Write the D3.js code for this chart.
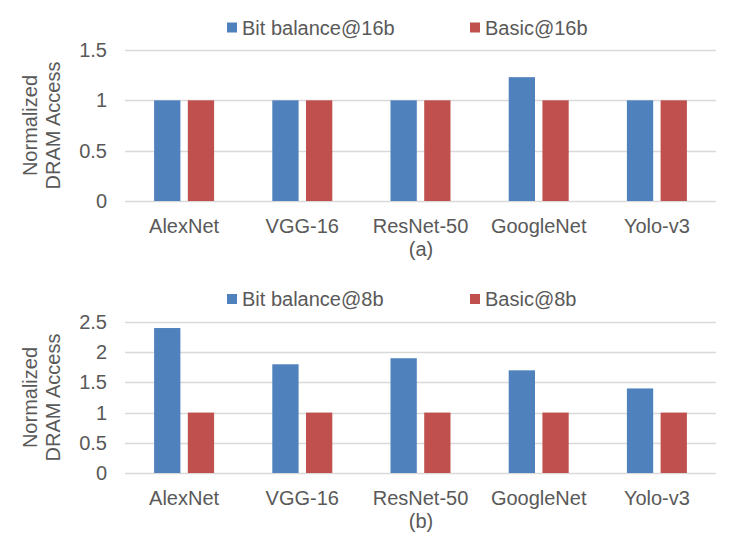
<!DOCTYPE html>
<html>
<head>
<meta charset="utf-8">
<script src="https://cdn.jsdelivr.net/npm/d3@7"></script>
<style>
  body { margin: 0; background: #fff; }
  text { font-family: "Liberation Sans", Arial, sans-serif; fill: #595959; }
</style>
</head>
<body>
<div id="container"></div>
<script>
var w = 739,
    h = 544;

// data
var networks = ['AlexNet', 'VGG-16', 'ResNet-50', 'GoogleNet', 'Yolo-v3'];

var series16 = ['Bit balance@16b', 'Basic@16b'];
var bitBalance16 = [1, 1, 1, 1.23, 1];
var basic16 = [1, 1, 1, 1, 1];
var ticks16 = [0, 0.5, 1, 1.5];

var series8 = ['Bit balance@8b', 'Basic@8b'];
var bitBalance8 = [2.4, 1.8, 1.9, 1.7, 1.4];
var basic8 = [1, 1, 1, 1, 1];
var ticks8 = [0, 0.5, 1, 1.5, 2, 2.5];

var colors = ['#4f81bd', '#c0504d'];

var svg = d3.select('#container')
    .append('svg')
    .attr('width', w)
    .attr('height', h);

// one panel of the figure
function drawPanel(opts) {
    var g = svg.append('g');

    var x0 = d3.scaleBand()
        .domain(networks)
        .range([125, 716]);

    var y = d3.scaleLinear()
        .domain([0, opts.max])
        .range([opts.bottom, opts.top]);

    // gridlines
    g.selectAll('.grid')
        .data(opts.ticks)
        .enter()
        .append('line')
        .attr('x1', 125)
        .attr('x2', 716)
        .attr('y1', function(d) { return Math.round(y(d)) + 0.5; })
        .attr('y2', function(d) { return Math.round(y(d)) + 0.5; })
        .attr('stroke', '#d9d9d9')
        .attr('stroke-width', 1.3);

    // y tick labels
    g.selectAll('.ytick')
        .data(opts.ticks)
        .enter()
        .append('text')
        .attr('x', 107)
        .attr('y', function(d) { return y(d); })
        .attr('dy', '0.35em')
        .attr('text-anchor', 'end')
        .style('font-size', '20px')
        .text(function(d) { return d; });

    // bars
    var rows = networks.map(function(n, i) {
        return { name: n, values: [opts.a[i], opts.b[i]] };
    });

    var groups = g.selectAll('.grp')
        .data(rows)
        .enter()
        .append('g')
        .attr('transform', function(d) {
            return 'translate(' + (x0(d.name) + x0.bandwidth() / 2) + ',0)';
        });

    var x1 = d3.scaleBand()
        .domain([0, 1])
        .range([-30, 30])
        .paddingInner(0.22);

    groups.selectAll('rect')
        .data(function(d) { return d.values; })
        .enter()
        .append('rect')
        .attr('x', function(d, i) { return x1(i); })
        .attr('width', x1.bandwidth())
        .attr('y', function(d) { return y(d); })
        .attr('height', function(d) { return y(0) - y(d); })
        .attr('fill', function(d, i) { return colors[i]; });

    // category labels
    g.selectAll('.xlab')
        .data(networks)
        .enter()
        .append('text')
        .attr('x', function(d) { return x0(d) + x0.bandwidth() / 2; })
        .attr('y', opts.bottom + 32)
        .attr('text-anchor', 'middle')
        .style('font-size', '20px')
        .text(function(d) { return d; });

    // panel caption
    g.append('text')
        .attr('x', 421)
        .attr('y', opts.bottom + 55)
        .attr('text-anchor', 'middle')
        .style('font-size', '20px')
        .text(opts.caption);

    // y axis title (two lines)
    var midY = (opts.top + opts.bottom) / 2;
    var title = g.append('text')
        .attr('transform', 'translate(37,' + midY + ') rotate(-90)')
        .attr('text-anchor', 'middle')
        .style('font-size', '20px');
    title.append('tspan').attr('x', 0).attr('dy', 0).text('Normalized');
    title.append('tspan').attr('x', 0).attr('dy', 23).text('DRAM Access');

    // legend
    var legendX = [227, 470];
    var leg = g.selectAll('.leg')
        .data(opts.series)
        .enter()
        .append('g')
        .attr('transform', function(d, i) {
            return 'translate(' + legendX[i] + ',' + opts.legendY + ')';
        });
    leg.append('rect')
        .attr('x', 0)
        .attr('y', -5)
        .attr('width', 10)
        .attr('height', 10)
        .attr('fill', function(d, i) { return colors[i]; });
    leg.append('text')
        .attr('x', 15)
        .attr('y', 7)
        .style('font-size', '20px')
        .text(function(d) { return d; });
}

drawPanel({
    series: series16, a: bitBalance16, b: basic16, ticks: ticks16,
    max: 1.5, top: 50, bottom: 201, legendY: 27.5, caption: '(a)'
});

drawPanel({
    series: series8, a: bitBalance8, b: basic8, ticks: ticks8,
    max: 2.5, top: 322, bottom: 473, legendY: 299, caption: '(b)'
});
</script>
</body>
</html>
